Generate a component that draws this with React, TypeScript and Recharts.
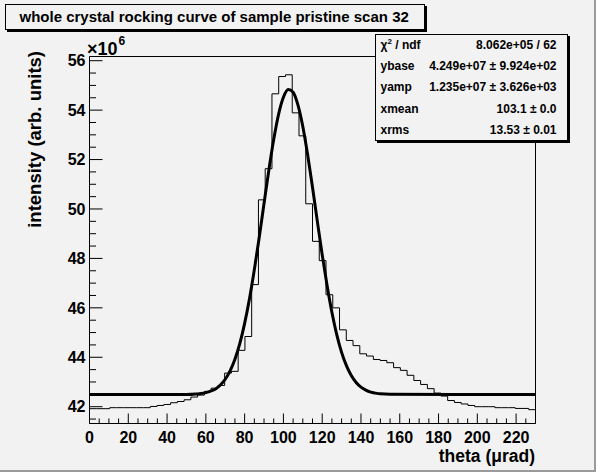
import React from 'react';
import { ComposedChart, Line, XAxis, YAxis, ReferenceLine } from 'recharts';

// ---- data (intensity in units of 10^6) ----
const THETA_MIN = 0;
const THETA_MAX = 230;
const histIntensity = [
  41.92, 41.92, 41.92, 41.96, 41.96, 41.96, 41.96, 41.96, 41.96, 42.01,
  42.05, 42.09, 42.16, 42.21, 42.28, 42.39, 42.47, 42.62, 42.75, 42.86,
  43.36, 43.43, 44.28, 44.84, 46.94, 50.37, 51.63, 54.66, 55.36, 55.43,
  53.89, 52.96, 50.21, 48.69, 47.91, 46.53, 46.0, 45.11, 44.68, 44.47,
  44.14, 44.05, 43.91, 43.87, 43.78, 43.58, 43.47, 43.27, 43.06, 42.9,
  42.73, 42.55, 42.43, 42.25, 42.17, 42.11, 42.05, 42.0, 42.0, 42.0,
  41.96, 41.96, 41.96, 41.93, 41.93, 41.88,
];
const fitTheta = [
  0, 50, 55, 57.5, 60, 62.5, 65, 67.5, 70, 72.5, 75, 77.5, 80, 82.5, 85, 87.5,
  90, 92.5, 95, 97.5, 100, 102.5, 105, 107.5, 110, 112.5, 115, 117.5, 120,
  122.5, 125, 127.5, 130, 132.5, 135, 137.5, 140, 142.5, 145, 147.5, 150, 155, 230,
];
const fitIntensity = [
  42.49, 42.49, 42.51, 42.53, 42.57, 42.63, 42.72, 42.88, 43.11, 43.45, 43.92,
  44.55, 45.37, 46.37, 47.54, 48.84, 50.22, 51.58, 52.81, 53.83, 54.52, 54.83,
  54.72, 54.2, 53.34, 52.19, 50.88, 49.5, 48.15, 46.91, 45.82, 44.92, 44.2,
  43.66, 43.26, 42.98, 42.79, 42.67, 42.59, 42.55, 42.52, 42.5, 42.49,
];
const xMajorTicks = [0, 20, 40, 60, 80, 100, 120, 140, 160, 180, 200, 220];
const yMajorTicks = [42, 44, 46, 48, 50, 52, 54, 56];
const Y_MIN = 41.32;
const Y_MAX = 56.17;

const statLabels = ['ybase', 'yamp', 'xmean', 'xrms'];
const statValues = ['4.249e+07 \u00b1 9.924e+02', '1.235e+07 \u00b1 3.626e+03', '103.1 \u00b1 0.0', '13.53 \u00b1 0.01'];
const chi2Value = '8.062e+05 / 62';
const titleText = 'whole crystal rocking curve of sample pristine scan 32';

// ---- derived ----
const nBins = histIntensity.length;
const binW = (THETA_MAX - THETA_MIN) / nBins;
const histData = histIntensity
  .map((v, k) => ({ x: THETA_MIN + k * binW, y: v }))
  .concat([{ x: THETA_MAX, y: histIntensity[nBins - 1] }]);
const fitData = fitTheta.map((t, i) => ({ x: t, y: fitIntensity[i] }));
const xTicks: number[] = [];
for (let t = 0; t <= 230; t += 5) xTicks.push(t);
const yTicks: number[] = [];
for (let v = 41.5; v <= 56.001; v += 0.5) yTicks.push(Math.round(v * 10) / 10);

const FONT = '"Liberation Sans", Arial, Helvetica, sans-serif';
const BG = '#f2f2f2';

const XTick = (props: any) => {
  const { x, y, payload } = props;
  const v = payload.value;
  const major = xMajorTicks.includes(v);
  return (
    <g>
      <line x1={x} y1={y} x2={x} y2={y - (major ? 10 : 5)} stroke="#000" strokeWidth={1} />
      {major && (
        <text x={x} y={y + 19.5} textAnchor="middle" fontFamily={FONT} fontWeight="bold" fontSize={16} fill="#000">
          {v}
        </text>
      )}
    </g>
  );
};

const YTick = (props: any) => {
  const { x, y, payload } = props;
  const v = payload.value;
  const major = yMajorTicks.includes(v);
  return (
    <g>
      <line x1={x} y1={y} x2={x + (major ? 13 : 6.5)} y2={y} stroke="#000" strokeWidth={1} />
      {major && (
        <text x={x - 4} y={y + 5.7} textAnchor="end" fontFamily={FONT} fontWeight="bold" fontSize={16} fill="#000">
          {v}
        </text>
      )}
    </g>
  );
};

export default function App() {
  return (
    <div
      style={{
        position: 'absolute',
        left: 0,
        top: 0,
        width: 596,
        height: 472,
        background: BG,
        boxShadow: 'inset -2px -2px 0 #9a9a9a',
        fontFamily: FONT,
        overflow: 'hidden',
      }}
    >
      <div style={{ position: 'absolute', left: 0, top: 0 }}>
        <ComposedChart
          width={596}
          height={472}
          margin={{ top: 56.5, right: 60.5, bottom: 18.5, left: 29.5 }}
        >
          <XAxis
            type="number"
            dataKey="x"
            domain={[THETA_MIN, THETA_MAX]}
            ticks={xTicks}
            interval={0}
            tickSize={0}
            tickMargin={0}
            tickLine={false}
            tick={<XTick />}
            axisLine={{ stroke: '#000', strokeWidth: 1 }}
            height={30}
            allowDataOverflow
          />
          <YAxis
            type="number"
            domain={[Y_MIN, Y_MAX]}
            ticks={yTicks}
            interval={0}
            tickSize={0}
            tickMargin={0}
            tickLine={false}
            tick={<YTick />}
            axisLine={{ stroke: '#000', strokeWidth: 1 }}
            width={60}
            allowDataOverflow
          />
          <ReferenceLine y={Y_MAX} stroke="#000" strokeWidth={1} />
          <ReferenceLine x={THETA_MAX} stroke="#000" strokeWidth={1} />
          <Line
            data={histData}
            dataKey="y"
            type="stepAfter"
            stroke="#000"
            strokeWidth={1}
            dot={false}
            activeDot={false}
            isAnimationActive={false}
          />
          <Line
            data={fitData}
            dataKey="y"
            type="monotone"
            stroke="#000"
            strokeWidth={3}
            dot={false}
            activeDot={false}
            isAnimationActive={false}
          />
        </ComposedChart>
      </div>

      <svg width={596} height={472} style={{ position: 'absolute', left: 0, top: 0, pointerEvents: 'none' }}>
        <text x={87} y={55} fontFamily={FONT} fontWeight="bold" fontSize={18} fill="#000">
          {'\u00d710'}
        </text>
        <text x={118.5} y={45} fontFamily={FONT} fontWeight="bold" fontSize={12} fill="#000">
          6
        </text>
        <text x={535} y={462} textAnchor="end" fontFamily={FONT} fontWeight="bold" fontSize={17.5} fill="#000">
          theta ({'\u03bc'}rad)
        </text>
        <text
          transform="translate(41,51) rotate(-90)"
          textAnchor="end"
          fontFamily={FONT}
          fontWeight="bold"
          fontSize={18.5}
          fill="#000"
        >
          intensity (arb. units)
        </text>
      </svg>

      <div
        style={{
          position: 'absolute',
          left: 4.5,
          top: 3.5,
          width: 420,
          height: 26,
          boxSizing: 'border-box',
          border: '1px solid #000',
          boxShadow: '2px 2px 0 #000',
          background: BG,
          fontSize: 15,
          fontWeight: 'bold',
          lineHeight: '24px',
          paddingLeft: 14,
          whiteSpace: 'nowrap',
          color: '#000',
        }}
      >
        {titleText}
      </div>

      <div
        style={{
          position: 'absolute',
          left: 374.5,
          top: 33.5,
          width: 193,
          height: 107,
          boxSizing: 'border-box',
          border: '1px solid #000',
          boxShadow: '2px 2px 0 #000',
          background: BG,
          fontSize: 12,
          fontWeight: 'bold',
          color: '#000',
        }}
      >
        <div style={{ display: 'flex', justifyContent: 'space-between', height: 21.2, alignItems: 'center', padding: '0 10px 0 5px' }}>
          <span>
            {'\u03c7'}
            <sup style={{ fontSize: 8, verticalAlign: 'top', lineHeight: '8px' }}>2</sup> / ndf
          </span>
          <span>{chi2Value}</span>
        </div>
        {statLabels.map((lab, i) => (
          <div
            key={lab}
            style={{ display: 'flex', justifyContent: 'space-between', height: 21.2, alignItems: 'center', padding: '0 10px 0 5px' }}
          >
            <span>{lab}</span>
            <span>{statValues[i]}</span>
          </div>
        ))}
      </div>
    </div>
  );
}
